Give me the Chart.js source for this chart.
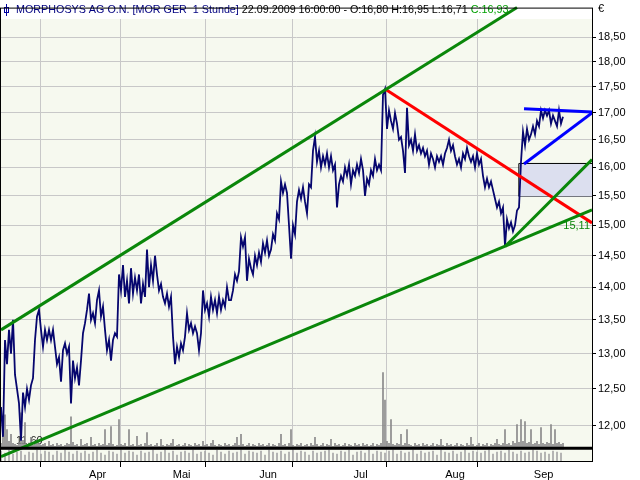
<!DOCTYPE html>
<html><head><meta charset="utf-8">
<script src="https://cdn.jsdelivr.net/npm/chart.js@4/dist/chart.umd.min.js"></script>
<style>html,body{margin:0;padding:0;background:#fff}#wrap{width:640px;height:480px}</style>
</head><body><div id="wrap"><canvas id="c" width="640" height="480"></canvas></div>
<script>
// ---------- DATA ----------
// hourly closes sampled per bar index (≈ half a trading day per step)
const prices = [
12.25,11.85,13.2,12.85,13.35,13.0,13.5,12.7,12.5,12.3,
11.8,12.45,12.25,12.5,12.35,12.55,12.65,13.2,13.55,13.65,
13.35,13.1,13.35,13.2,13.35,13.2,13.35,13.1,12.85,12.95,
12.6,13.05,13.15,13.0,13.1,12.3,12.9,12.65,12.8,12.55,
12.9,13.3,13.45,13.65,13.9,13.5,13.6,13.45,13.8,13.95,
13.55,13.7,13.35,13.05,13.2,12.9,13.2,
13.3,13.25,14.2,13.95,14.35,13.85,14.1,13.75,14.3,13.9,
14.15,13.95,14.2,13.75,14.05,13.85,14.6,14.0,14.35,14.1,
14.5,14.2,13.95,14.05,13.85,13.75,13.9,13.7,13.85,13.25,
12.85,13.1,12.95,13.15,13.05,13.25,13.6,13.35,13.45,13.3,
13.4,13.3,13.05,13.3,13.95,13.65,13.75,13.55,13.85,13.65,
13.8,13.6,13.85,13.65,13.8,13.7,14.0,13.8,
13.8,13.95,14.2,14.1,14.25,14.8,14.65,14.8,14.1,14.45,
14.3,14.2,14.5,14.35,14.55,14.4,14.7,14.55,14.75,14.5,
14.6,14.85,14.75,15.2,15.1,15.75,15.55,15.7,15.55,15.0,
14.45,15.0,14.85,15.4,15.6,15.45,15.65,15.4,15.2,15.7,
15.65,16.3,16.55,16.1,16.3,16.0,16.2,16.05,16.25,16.0,
16.2,15.95,16.05,15.3,15.7,15.85,15.75,16.0,15.85,16.05,
15.7,15.95,15.85,16.05,15.9,16.15,15.95,15.5,15.8,15.7,
15.95,15.85,16.15,15.95,16.05,15.95,17.35,17.46,16.7,17.05,
16.85,16.7,17.0,16.8,16.5,16.55,16.3,15.9,17.1,16.4,
16.5,16.3,16.6,16.3,16.4,16.25,16.35,16.2,16.3,16.05,
16.25,16.15,16.0,16.2,16.1,16.2,16.05,16.25,16.35,16.5,
16.3,16.4,16.2,16.05,16.15,16.0,16.25,16.15,16.35,16.2,
16.1,16.2,16.0,16.25,16.05,16.15,15.85,15.65,15.8,15.65,
15.75,15.6,15.45,15.3,15.4,15.2,15.3,14.66,15.1,14.95,
15.05,14.9,15.0,15.25,15.3,16.1,16.65,16.4,16.7,16.5,
16.6,16.75,16.6,16.85,16.75,17.05,16.9,17.05,16.95,17.05,
16.8,16.95,16.85,16.75,17.05,16.8,16.93
];
// volume (thousand shares) per bar index
const volumes = [
6,30,35,20,8,15,6,5,4,7,37,9,27,5,6,12,4,5,10,6,
4,5,6,3,8,4,5,3,6,4,5,3,4,6,5,33,7,4,5,3,
10,4,5,6,3,12,4,5,3,6,4,5,20,4,6,23,5,3,4,30,
5,4,6,3,20,4,5,3,13,4,5,3,6,17,4,5,3,4,6,3,
10,4,3,5,4,6,10,3,4,5,3,4,6,3,5,4,3,6,4,5,
3,8,4,5,3,6,9,4,3,5,4,3,6,4,5,3,4,6,12,4,
15,5,3,4,6,3,5,4,3,6,4,5,3,4,6,3,5,4,3,6,
15,4,5,3,6,20,4,3,5,4,6,3,4,5,3,6,4,12,5,3,
4,6,3,5,4,10,3,6,4,5,3,4,6,3,5,4,3,6,4,5,
3,6,4,5,3,4,6,3,5,4,6,78,50,8,6,30,5,4,6,5,
15,4,6,20,5,4,3,6,4,5,3,6,4,5,3,4,6,3,5,4,
10,4,3,6,4,5,3,4,6,3,5,4,3,6,4,12,5,3,4,6,
3,5,4,6,3,5,4,6,10,5,4,6,20,5,6,4,8,6,25,7,
30,8,28,6,7,20,5,6,8,5,22,6,5,7,6,25,5,20,6,7,5,6
];
// lower pane values (every second bar index)
const lowerPane = [
10,8,11,7,9,10,6,9,8,11,7,10,9,6,10,8,11,9,7,10,
8,10,7,9,11,8,6,10,9,7,11,8,10,9,6,10,8,9,11,7,
9,11,8,10,6,9,10,8,11,7,9,10,8,6,11,9,7,10,8,9,
11,7,10,9,8,10,6,11,9,8,10,7,9,11,8,10,9,6,10,8,
9,10,11,8,7,10,9,11,6,9,10,8,11,7,10,9,8,10,11,7,
10,8,9,11,7,10,8,9,10,6,11,9,8,10,7,9,11,8,10,9,
8,10,11,7,9,10,8,11,9,7,10,8,9,11,10,8,9,7,10,9,8
];
const priceTicks = [12,12.5,13,13.5,14,14.5,15,15.5,16,16.5,17,17.5,18,18.5];
const monthLabels = ['Apr','Mai','Jun','Jul','Aug','Sep'];
const monthStarts = [29.2,70.7,114.0,157.9,205.7,249.2];
const monthLabelPos = [48.3,90.3,133.5,179.8,227.0,271.3];
// trend lines: [bar index, price]
const upperChannel = [[0,13.35],[258,19.12]];
const lowerChannel = [[0,11.59],[295.5,15.26]];
const steepSupport = [[252,14.65],[295.5,16.14]];
const resistance   = [[192,17.46],[295.5,15.04]];
const blueTop      = [[261.5,17.08],[295.5,17.02]];
const blueRising   = [[261.5,16.06],[295.5,17.0]];
const gapTop       = [[259.1,16.07],[295.5,16.07]];
const gapBottom    = [[259.1,15.49],[295.5,15.49]];
const lowLabel = {text:'11,60', x:7.5, price:11.60};
const lineLabel = {text:'15,11', price:15.11};
const title = {
  name:'MORPHOSYS AG O.N. [MOR GER  1 Stunde]',
  info:' 22.09.2009 16:00:00 - O:16,80 H:16,95 L:16,71 ',
  close:'C:16,93'
};

// ---------- STYLE ----------
const PLOT_BG = '#f6f9ef';
const GRID = '#c8c8c8';
const GREEN = '#0a870a';
const RED = '#ff0000';
const BLUE = '#0000ff';
const NAVY = '#06066e';
const FONT = '"Liberation Sans", Arial, sans-serif';
const X_MAX = 295.5;

const xy = a => a.map(([x,y]) => ({x,y}));
const lineDs = (label, data, color, w, extra) => Object.assign({
  type:'line', label, data: xy(data), borderColor: color, borderWidth: w,
  pointRadius:0, tension:0, fill:false
}, extra||{});

const deco = {
  id:'deco',
  beforeDraw(chart){
    const {ctx, chartArea:a} = chart;
    ctx.save();
    ctx.fillStyle = '#fff'; ctx.fillRect(0,0,chart.width,chart.height);
    ctx.fillStyle = PLOT_BG; ctx.fillRect(a.left,a.top,a.right-a.left,a.bottom-a.top);
    ctx.restore();
  },
  beforeDatasetsDraw(chart){
    const {ctx, chartArea:a, scales} = chart;
    ctx.save();
    ctx.fillStyle = '#fff';
    ctx.fillRect(a.left, 0, a.right-a.left, 19);
    ctx.strokeStyle = '#0000a0'; ctx.lineWidth = 1;
    ctx.beginPath(); ctx.moveTo(6.5,4); ctx.lineTo(6.5,16); ctx.stroke();
    ctx.strokeRect(4.5,7.5,4,5);
    ctx.font = '11px ' + FONT; ctx.textBaseline = 'middle';
    const full = title.name + title.info + title.close;
    const w = ctx.measureText(full).width;
    const fs = 11 * 493 / w;
    ctx.font = fs.toFixed(2) + 'px ' + FONT;
    let x = 16; const y = 10;
    ctx.fillStyle = '#000080'; ctx.fillText(title.name, x, y); x += ctx.measureText(title.name).width;
    ctx.fillStyle = '#000'; ctx.fillText(title.info, x, y); x += ctx.measureText(title.info).width;
    ctx.fillStyle = '#00a000'; ctx.fillText(title.close, x, y);
    ctx.font = '11px ' + FONT;
    ctx.fillStyle = '#222'; ctx.textBaseline = 'bottom'; ctx.textAlign = 'left';
    ctx.fillText(lowLabel.text, scales.x.getPixelForValue(lowLabel.x), scales.y.getPixelForValue(lowLabel.price) - 9);
    ctx.fillStyle = GREEN; ctx.textAlign = 'right'; ctx.textBaseline = 'top';
    ctx.fillText(lineLabel.text, a.right - 2, scales.y.getPixelForValue(lineLabel.price) + 2);
    ctx.restore();
  },
  afterDatasetsDraw(chart){
    const {ctx, chartArea:a, scales} = chart;
    ctx.save();
    const sy = scales.yv.getPixelForValue(0) - 1;
    ctx.strokeStyle = '#000'; ctx.lineWidth = 3;
    ctx.beginPath(); ctx.moveTo(a.left, sy); ctx.lineTo(a.right, sy); ctx.stroke();
    ctx.lineWidth = 1;
    ctx.strokeRect(a.left-0.5, a.top-0.5, a.right-a.left+1, a.bottom-a.top+1);
    ctx.restore();
  },
  afterDraw(chart){
    const {ctx} = chart;
    ctx.save();
    ctx.font = '11px ' + FONT; ctx.fillStyle = '#000'; ctx.textBaseline='middle';
    ctx.fillText('€', 598, 9);
    ctx.restore();
  }
};

new Chart(document.getElementById('c'), {
  type:'line',
  data:{ datasets:[
    lineDs('upper channel', upperChannel, GREEN, 3, {clip:false}),
    lineDs('lower channel', lowerChannel, GREEN, 3),
    lineDs('steep support', steepSupport, GREEN, 3),
    lineDs('resistance', resistance, RED, 3),
    lineDs('blue top', blueTop, BLUE, 3),
    lineDs('blue rising', blueRising, BLUE, 3),
    { type:'line', label:'price', data: prices.map((p,i)=>({x:i,y:p})), borderColor: NAVY,
      borderWidth:1.8, pointRadius:0, tension:0, fill:false },
    lineDs('gap top', gapTop, '#000', 1, {fill:'+1', backgroundColor:'#dcdfef'}),
    lineDs('gap bottom', gapBottom, '#000', 1),
    lineDs('gap left', [[gapTop[0][0], gapTop[0][1]],[gapBottom[0][0], gapBottom[0][1]]], '#000', 1),
    { type:'bar', label:'volume', data: volumes.map((v,i)=>({x:i,y:[0,v]})), yAxisID:'yv',
      backgroundColor:'#8a8a8a', barThickness:1, grouped:false },
    { type:'bar', label:'lower pane', data: lowerPane.map((v,k)=>({x:2*k,y:[0,v]})), yAxisID:'ys',
      backgroundColor:'#a6a6a6', barThickness:1, grouped:false }
  ]},
  options:{
    responsive:false, animation:false, events:[],
    layout:{padding:{left:1, top:1, right:0, bottom:0}},
    plugins:{legend:{display:false}, tooltip:{enabled:false}, title:{display:false}},
    scales:{
      x:{ type:'linear', min:0, max:X_MAX, offset:false,
        afterBuildTicks: s => { s.ticks = monthStarts.concat(monthLabelPos).sort((a,b)=>a-b).map(v=>({value:v})); },
        afterFit: s => { s.height = 19; },
        ticks:{ autoSkip:false, maxRotation:0, padding:1, color:'#000', font:{family:FONT, size:11},
          callback: v => { const k = monthLabelPos.indexOf(v); return k>=0 ? monthLabels[k] : ''; } },
        grid:{ color: c => (c.tick && monthStarts.includes(c.tick.value)) ? GRID : 'rgba(0,0,0,0)',
          tickColor: c => (c.tick && monthStarts.includes(c.tick.value)) ? '#000' : 'rgba(0,0,0,0)',
          tickLength:6, lineWidth:1 },
        border:{color:'#000', width:1}
      },
      y:{ type:'logarithmic', position:'right', min:11.535, max:19.097,
        afterBuildTicks: s => { s.ticks = priceTicks.map(v=>({value:v})); },
        afterFit: s => { s.width = 48; },
        ticks:{ autoSkip:false, padding:2, color:'#000', font:{family:FONT, size:11},
          callback: v => Number(v).toFixed(2).replace('.', ',') },
        grid:{ color:GRID, tickColor:'#000', tickLength:4, lineWidth:1 },
        border:{color:'#000', width:1}
      },
      yv:{ type:'linear', display:false, min:-12, max:448 },
      ys:{ type:'linear', display:false, min:0, max:460 }
    }
  },
  plugins:[deco]
});
</script>
</body></html>
